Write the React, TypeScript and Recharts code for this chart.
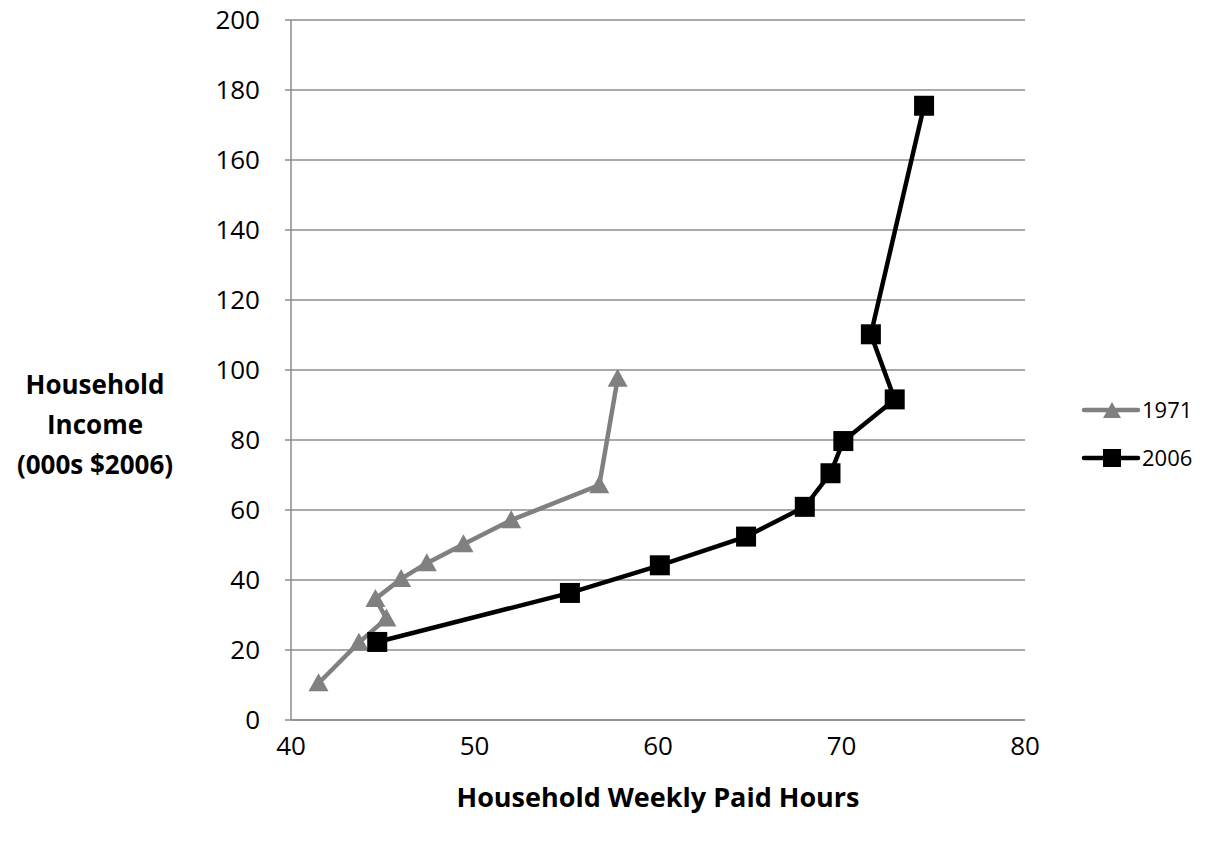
import React from 'react';
import {
  ScatterChart,
  Scatter,
  XAxis,
  YAxis,
  CartesianGrid,
  Label,
} from 'recharts';

const hours1971 = [41.5, 43.7, 45.2, 44.6, 46.0, 47.4, 49.4, 52.0, 56.8, 57.8];
const income1971 = [10.5, 22.1, 29.0, 34.6, 40.3, 44.8, 50.2, 57.1, 67.1, 97.5];

const hours2006 = [44.7, 55.2, 60.1, 64.8, 68.0, 69.4, 70.1, 72.9, 71.6, 74.5];
const income2006 = [22.3, 36.3, 44.2, 52.4, 60.9, 70.5, 79.7, 91.6, 110.2, 175.5];

const xTicks = [40, 50, 60, 70, 80];
const yTicks = [0, 20, 40, 60, 80, 100, 120, 140, 160, 180, 200];

const data1971 = hours1971.map((x, i) => ({ x, y: income1971[i] }));
const data2006 = hours2006.map((x, i) => ({ x, y: income2006[i] }));

const FONT = 'Open Sans, sans-serif';
const GRAY = '#808080';
const GRID = '#8c8c8c';

const Triangle = (props: any) => {
  const { cx, cy } = props;
  if (cx == null || cy == null) return null;
  const s = 10;
  return (
    <polygon
      points={`${cx},${cy - s} ${cx - s},${cy + s * 0.8} ${cx + s},${cy + s * 0.8}`}
      fill={GRAY}
    />
  );
};

const Square = (props: any) => {
  const { cx, cy } = props;
  if (cx == null || cy == null) return null;
  const s = 10;
  return <rect x={cx - s} y={cy - s} width={s * 2} height={s * 2} fill="#000" />;
};

// legend drawn beside the chart, like the original
const ChartLegend = () => {
  const items = [
    { name: '1971', color: GRAY, marker: 'tri' },
    { name: '2006', color: '#000', marker: 'sq' },
  ];
  return (
    <svg
      width={124}
      height={80}
      style={{ position: 'absolute', left: 1080, top: 396, overflow: 'visible' }}
    >
      {items.map((it, i) => {
        const y = 14 + i * 48;
        return (
          <g key={it.name}>
            <line x1={4} x2={58} y1={y} y2={y} stroke={it.color} strokeWidth={4.5} strokeLinecap="round" />
            {it.marker === 'tri' ? (
              <polygon points={`32,${y - 8} 23,${y + 8} 41,${y + 8}`} fill={it.color} />
            ) : (
              <rect x={23} y={y - 9} width={18} height={18} fill={it.color} />
            )}
            <text x={62} y={y + 8} fontSize={22} fontFamily={FONT} fill="#000">
              {it.name}
            </text>
          </g>
        );
      })}
    </svg>
  );
};

const YTitle = () => {
  const lines = ['Household', 'Income', '(000s $2006)'];
  return (
    <text textAnchor="middle" fontFamily={FONT} fontWeight="bold" fontSize={26} fill="#000">
      {lines.map((l, i) => (
        <tspan key={l} x={95} y={394 + i * 40}>
          {l}
        </tspan>
      ))}
    </text>
  );
};

export default function App() {
  return (
    <div style={{ position: 'absolute', left: 0, top: 0, width: 1211, height: 851, background: '#fff' }}>
      <ScatterChart
        width={1211}
        height={851}
        margin={{ top: 20, right: 186, bottom: 0, left: 0 }}
      >
        <CartesianGrid vertical={false} stroke={GRID} strokeWidth={1.5} />
        <XAxis
          type="number"
          dataKey="x"
          domain={[40, 80]}
          ticks={xTicks}
          tickLine={false}
          axisLine={{ stroke: GRID, strokeWidth: 1.5 }}
          tick={{ fill: '#000', fontSize: 26, fontFamily: FONT }}
          tickMargin={11}
          height={131}
        >
          <Label
            value="Household Weekly Paid Hours"
            position="insideTop"
            offset={68}
            style={{ fontFamily: FONT, fontWeight: 'bold', fontSize: 27, fill: '#000' }}
          />
        </XAxis>
        <YAxis
          type="number"
          dataKey="y"
          domain={[0, 200]}
          ticks={yTicks}
          width={291}
          tickSize={6}
          tickLine={{ stroke: GRID, strokeWidth: 1.5 }}
          axisLine={{ stroke: GRID, strokeWidth: 1.5 }}
          tick={{ fill: '#000', fontSize: 26, fontFamily: FONT }}
          tickMargin={25}
          label={<YTitle />}
        />
        <Scatter
          name="1971"
          data={data1971}
          line={{ stroke: GRAY, strokeWidth: 4.5 }}
          lineType="joint"
          shape={<Triangle />}
          fill={GRAY}
          isAnimationActive={false}
        />
        <Scatter
          name="2006"
          data={data2006}
          line={{ stroke: '#000', strokeWidth: 4.5 }}
          lineType="joint"
          shape={<Square />}
          fill="#000"
          isAnimationActive={false}
        />
      </ScatterChart>
      <ChartLegend />
    </div>
  );
}
